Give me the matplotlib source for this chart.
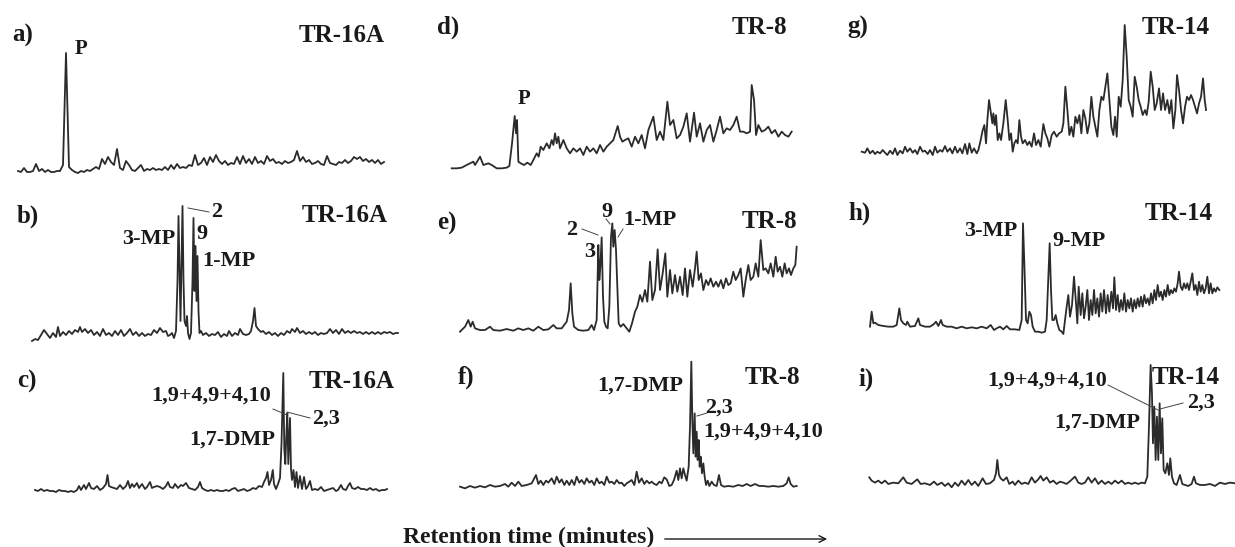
import numpy as np
import matplotlib
matplotlib.use("Agg")
import matplotlib.pyplot as plt
from matplotlib.lines import Line2D
from matplotlib.patches import FancyArrowPatch

W, H = 1235, 547
INK = "#1a1a1a"
TRACE = "#2b2b2b"
SERIF = "Liberation Serif"

# ---- chromatogram traces (retention in arbitrary scan units, signal in arbitrary units) ----
a_time = [0, 3, 6, 9, 12, 15, 18, 21, 24, 27, 30, 33, 36, 39, 42, 45, 48, 51, 54, 57,
          60, 63, 66, 69, 72, 75, 78, 81, 84, 87, 90, 93, 96, 99, 102, 105, 108, 111, 114, 117,
          120, 123, 126, 129, 132, 135, 138, 141, 144, 147, 150, 153, 156, 159, 162, 165, 168, 171, 174, 177,
          180, 183, 186, 189, 192, 195, 198, 201, 204, 207, 210, 213, 216, 219, 222, 225, 228, 231, 234, 237,
          240, 243, 246, 249, 252, 255, 258, 261, 264, 267, 270, 273, 276, 279, 282, 285, 288, 291, 294, 297,
          300, 303, 306, 309, 312, 315, 318, 321, 324, 327, 330, 333, 336, 339, 342, 345, 348, 351, 354, 357,
          360, 363, 366]
a_signal = [2, 1, 5, 1, 1, 2, 9, 2, 4, 1, 3, 1, 1, 2, 2, 8, 120, 6, 3, 1,
            0, 2, 1, 3, 2, 4, 6, 4, 14, 9, 16, 11, 8, 24, 5, 3, 12, 8, 3, 2,
            5, 8, 2, 4, 3, 5, 3, 4, 3, 6, 3, 8, 4, 9, 5, 6, 5, 8, 7, 18,
            8, 10, 15, 8, 16, 11, 18, 12, 9, 12, 8, 10, 9, 16, 9, 17, 10, 14, 9, 16,
            10, 12, 9, 17, 12, 14, 10, 11, 9, 12, 10, 11, 13, 22, 12, 16, 11, 13, 9, 10,
            12, 9, 8, 17, 10, 9, 8, 11, 10, 13, 10, 12, 16, 14, 16, 12, 14, 11, 13, 10,
            13, 9, 11]

b_time = [32, 35, 38, 41, 44, 47, 50, 53, 56, 58, 60, 63, 66, 69, 72, 75, 78, 80, 82, 85,
          88, 91, 94, 97, 100, 103, 106, 109, 112, 115, 118, 121, 124, 127, 130, 133, 136, 139, 142, 145,
          148, 151, 154, 157, 160, 163, 166, 168, 170, 172, 174, 176, 177.5, 178.5, 179.5, 180.5, 181.5, 182.5, 183.5, 184.5,
          186, 187, 188, 189.5, 191, 192.5, 193.5, 194.5, 195.5, 196.5, 197.5, 198.5, 199.5, 201, 203, 206, 209, 212, 215, 218,
          221, 224, 227, 229, 232, 235, 238, 240, 243, 246, 249, 251, 253, 254.5, 256, 258, 261, 263, 266, 269,
          272, 275, 278, 281, 284, 287, 290, 292, 295, 297, 300, 303, 306, 309, 312, 315, 318, 321, 324, 327,
          330, 333, 336, 339, 342, 345, 348, 351, 354, 357, 360, 363, 366, 369, 372, 375, 378, 381, 384, 387,
          390, 393, 396, 398]
b_signal = [0, 2, 1, 6, 11, 7, 3, 8, 4, 14, 5, 9, 6, 10, 7, 11, 9, 14, 9, 12,
            8, 11, 6, 9, 5, 12, 6, 8, 5, 10, 6, 11, 5, 8, 12, 6, 9, 5, 8, 5,
            7, 6, 11, 8, 13, 9, 10, 5, 6, 8, 3, 10, 60, 125, 70, 20, 75, 135, 60, 20,
            15, 25, 8, 2, 8, 60, 123, 50, 95, 40, 85, 30, 8, 10, 6, 8, 5, 7, 6, 9,
            4, 7, 5, 10, 5, 8, 6, 12, 7, 6, 7, 10, 20, 33, 15, 12, 9, 10, 7, 9,
            6, 8, 5, 8, 6, 10, 8, 12, 9, 13, 8, 10, 7, 9, 7, 9, 6, 8, 7, 8,
            12, 8, 11, 7, 12, 8, 10, 8, 10, 8, 9, 7, 9, 7, 9, 7, 9, 7, 9, 8,
            9, 7, 8, 8]

c_time = [35, 38, 41, 44, 47, 50, 53, 56, 59, 62, 65, 68, 71, 74, 77, 79, 81, 84, 86, 89,
          91, 94, 97, 100, 103, 106, 107.5, 109, 111, 114, 117, 120, 123, 126, 128, 130, 132, 134, 137, 139,
          142, 145, 147, 150, 152, 154, 157, 160, 163, 166, 168, 170, 173, 175, 178, 181, 183, 186, 189, 192,
          195, 198, 200, 202, 205, 208, 211, 214, 217, 220, 223, 226, 229, 232, 235, 238, 241, 244, 247, 250,
          253, 256, 259, 262, 264, 266, 267.5, 269, 271, 272.8, 274, 276, 278, 280, 281.5, 283.3, 284.3, 285.3, 286.2, 287.3,
          288.3, 289, 290, 291, 292, 293.5, 295, 296.5, 298, 300, 302, 304, 306, 308, 310, 312, 315, 318, 321, 324,
          327, 330, 333, 336, 338, 341, 343, 346, 348, 350, 352, 355, 358, 361, 364, 367, 370, 373, 376, 379,
          382, 385, 387]
c_signal = [4, 3, 5, 3, 4, 3, 3, 2, 4, 3, 3, 2, 3, 2, 4, 8, 4, 9, 5, 11,
            6, 5, 8, 4, 6, 10, 19, 8, 7, 6, 5, 9, 5, 8, 13, 6, 10, 7, 11, 6,
            10, 5, 7, 12, 6, 7, 8, 7, 5, 8, 12, 7, 6, 10, 6, 9, 8, 11, 6, 5,
            4, 7, 12, 6, 4, 3, 4, 3, 4, 3, 3, 4, 3, 5, 6, 3, 4, 5, 3, 4,
            6, 5, 8, 7, 12, 16, 22, 9, 14, 24, 10, 5, 10, 16, 50, 121, 45, 30, 55, 81,
            30, 50, 76, 25, 14, 24, 7, 22, 6, 18, 5, 17, 5, 8, 13, 4, 5, 4, 7, 3,
            4, 5, 6, 3, 4, 9, 5, 4, 8, 11, 6, 5, 7, 5, 5, 4, 6, 4, 5, 3,
            4, 4, 5]

d_time = [95, 110, 125, 140, 150, 160, 165, 180, 190, 205, 215, 230, 245, 260, 268, 276, 284, 288, 291, 295,
          302, 312, 322, 332, 340, 350, 356, 362, 370, 380, 388, 395, 400, 405, 410, 415, 420, 430, 440, 450,
          460, 470, 480, 490, 500, 510, 520, 530, 540, 550, 560, 570, 580, 593, 600, 607, 615, 625, 635, 645,
          655, 665, 675, 685, 700, 710, 720, 730, 742, 750, 760, 770, 780, 790, 800, 810, 822, 830, 840, 850,
          860, 870, 880, 890, 900, 910, 920, 930, 940, 950, 960, 970, 980, 990, 995, 1002, 1008, 1015, 1025, 1035,
          1045, 1055, 1065, 1075, 1085, 1095, 1105, 1115]
d_signal = [2, 2, 4, 12, 17, 22, 12, 37, 12, 17, 12, 2, 2, 4, 9, 77, 159, 107, 147, 22,
            17, 12, 19, 12, 27, 47, 37, 67, 57, 77, 62, 87, 72, 107, 77, 97, 62, 87, 62, 47,
            62, 52, 62, 42, 67, 52, 62, 47, 72, 52, 67, 77, 87, 129, 97, 82, 87, 92, 67, 97,
            77, 102, 62, 117, 157, 87, 112, 87, 202, 132, 147, 92, 102, 127, 167, 82, 169, 97, 137, 82,
            117, 132, 82, 117, 157, 107, 122, 117, 132, 157, 112, 112, 107, 112, 252, 207, 102, 132, 112, 117,
            127, 107, 117, 97, 112, 102, 97, 112]

e_time = [120, 135, 145, 152, 158, 165, 180, 195, 210, 220, 240, 260, 280, 295, 310, 325, 340, 355, 370, 385,
          400, 410, 425, 440, 447, 452, 457, 462, 475, 490, 505, 515, 522, 530, 535, 538, 541, 545, 549, 553,
          558, 563, 568, 573, 577, 580, 584, 588, 592, 596, 602, 610, 620, 628, 636, 645, 652, 660, 667, 675,
          682, 690, 697, 705, 713, 720, 728, 736, 742, 750, 757, 765, 772, 780, 788, 795, 802, 810, 818, 825,
          830, 836, 843, 850, 858, 865, 872, 880, 888, 895, 903, 910, 918, 925, 932, 940, 947, 955, 962, 970,
          977, 985, 992, 1000, 1007, 1015, 1022, 1030, 1037, 1045, 1052, 1060, 1067, 1073, 1080, 1087, 1094, 1100, 1107, 1113,
          1120, 1126, 1130]
e_signal = [3, 18, 38, 18, 33, 13, 8, 8, 18, 8, 6, 11, 6, 13, 8, 13, 6, 18, 8, 10,
            23, 13, 13, 33, 68, 148, 58, 18, 8, 6, 8, 23, 8, 38, 263, 158, 198, 286, 108, 33,
            18, 13, 78, 288, 328, 258, 308, 248, 138, 28, 18, 26, 13, 3, 28, 63, 78, 113, 93, 128,
            93, 213, 98, 128, 250, 128, 178, 238, 108, 188, 118, 173, 123, 168, 113, 193, 108, 188, 138, 193,
            243, 158, 178, 128, 158, 143, 163, 138, 153, 138, 158, 133, 163, 143, 148, 183, 158, 173, 193, 108,
            158, 203, 158, 168, 208, 168, 278, 188, 193, 178, 208, 168, 228, 183, 198, 168, 208, 178, 193, 173,
            193, 203, 258]

f_time = [120, 135, 150, 165, 180, 195, 210, 225, 240, 255, 265, 275, 285, 295, 305, 320, 335, 348, 355, 362,
          370, 378, 385, 395, 403, 410, 418, 425, 433, 440, 448, 455, 463, 470, 478, 485, 493, 500, 508, 515,
          523, 530, 538, 545, 553, 560, 568, 575, 583, 590, 598, 605, 613, 620, 628, 635, 643, 650, 657, 665,
          673, 680, 688, 695, 703, 710, 718, 725, 733, 740, 748, 755, 762, 770, 775, 780, 785, 790, 795, 800,
          806, 810, 814, 817, 820, 824, 827, 830, 833, 836, 839, 842, 846, 850, 854, 858, 863, 868, 875, 882,
          890, 897, 903, 912, 925, 940, 955, 968, 980, 992, 1005, 1018, 1030, 1045, 1060, 1075, 1090, 1100, 1106, 1112,
          1120, 1130]
f_signal = [10, 5, 12, 7, 12, 8, 15, 10, 12, 18, 10, 22, 12, 25, 12, 15, 20, 45, 18, 28,
            15, 28, 22, 35, 18, 40, 22, 32, 15, 28, 15, 30, 15, 40, 22, 30, 18, 35, 22, 28,
            15, 35, 20, 25, 15, 40, 22, 25, 18, 30, 20, 22, 12, 20, 25, 30, 15, 55, 22, 35,
            18, 28, 20, 25, 18, 15, 25, 20, 38, 32, 12, 15, 30, 58, 30, 65, 35, 65, 45, 28,
            70, 190, 385, 210, 110, 230, 100, 175, 90, 150, 70, 100, 50, 80, 40, 15, 28, 12, 25, 15,
            12, 45, 15, 10, 12, 10, 15, 12, 18, 12, 18, 12, 12, 10, 12, 10, 12, 20, 38, 18,
            10, 12]

g_time = [95, 105, 112, 120, 128, 135, 142, 150, 158, 165, 172, 180, 188, 195, 202, 210, 218, 225, 232, 240,
          248, 255, 262, 270, 278, 285, 293, 300, 308, 315, 322, 330, 337, 345, 352, 360, 367, 375, 382, 390,
          397, 405, 412, 418, 425, 432, 440, 445, 452, 458, 463, 468, 472, 477, 482, 487, 490, 494, 498, 503,
          508, 513, 520, 527, 533, 538, 543, 548, 553, 558, 563, 568, 573, 578, 585, 592, 598, 605, 612, 618,
          625, 632, 640, 646, 652, 658, 665, 672, 680, 687, 695, 700, 706, 712, 718, 724, 730, 736, 742, 748,
          754, 760, 766, 772, 778, 784, 790, 796, 802, 808, 814, 820, 826, 832, 838, 844, 850, 855, 860, 866,
          872, 878, 884, 890, 896, 902, 908, 914, 920, 926, 932, 938, 945, 950, 956, 962, 968, 974, 980, 987,
          993, 999, 1005, 1012, 1018, 1024, 1030, 1036, 1041, 1047, 1053, 1059, 1065, 1071, 1077, 1083, 1089, 1095, 1101, 1107,
          1113, 1119, 1124, 1128]
g_signal = [15, 12, 25, 10, 18, 8, 15, 10, 20, 12, 5, 18, 8, 25, 5, 18, 10, 30, 15, 25,
            12, 20, 8, 30, 15, 18, 8, 20, 5, 30, 12, 20, 15, 32, 15, 25, 10, 30, 12, 25,
            10, 38, 8, 40, 12, 25, 10, 20, 50, 80, 95, 40, 110, 170, 135, 100, 130, 95, 125, 50,
            70, 50, 100, 170, 110, 50, 70, 15, 40, 50, 40, 110, 60, 40, 50, 35, 45, 30, 70, 35,
            50, 30, 98, 70, 55, 30, 65, 75, 60, 70, 75, 100, 210, 140, 65, 90, 60, 120, 100, 125,
            70, 140, 115, 70, 100, 180, 120, 90, 60, 140, 180, 170, 210, 250, 170, 90, 65, 120, 60, 180,
            150, 230, 395, 300, 170, 150, 120, 240, 210, 170, 150, 125, 140, 125, 165, 255, 210, 140, 160, 205,
            140, 190, 140, 170, 130, 170, 85, 140, 245, 200, 140, 100, 150, 180, 170, 185, 170, 150, 130, 160,
            180, 235, 170, 140]

h_time = [120, 125, 130, 135, 145, 160, 175, 190, 200, 208, 213, 220, 228, 232, 240, 255, 265, 270, 285, 300,
          312, 318, 325, 333, 338, 350, 365, 380, 395, 410, 425, 440, 455, 470, 482, 492, 500, 510, 520, 530,
          540, 555, 568, 575, 579, 583, 588, 593, 598, 603, 608, 615, 625, 635, 645, 650, 655, 659, 663, 667,
          672, 677, 682, 688, 695, 700, 705, 710, 715, 720, 726, 732, 738, 742, 746, 752, 757, 762, 767, 772,
          777, 782, 787, 792, 797, 802, 807, 812, 817, 822, 828, 833, 838, 844, 849, 853, 858, 863, 868, 873,
          878, 883, 888, 893, 898, 903, 908, 913, 918, 923, 928, 933, 938, 943, 948, 953, 958, 963, 968, 973,
          978, 983, 988, 993, 998, 1003, 1008, 1013, 1018, 1023, 1028, 1033, 1038, 1043, 1047, 1052, 1057, 1062, 1067, 1072,
          1077, 1082, 1087, 1092, 1097, 1102, 1107, 1112, 1117, 1122, 1127, 1132, 1137, 1142, 1147, 1152, 1157, 1162, 1168]
h_signal = [22, 67, 32, 34, 27, 24, 22, 22, 27, 77, 42, 32, 27, 37, 22, 24, 47, 27, 22, 22,
            30, 37, 24, 42, 27, 22, 22, 17, 22, 17, 20, 17, 22, 17, 27, 12, 17, 22, 14, 24,
            14, 14, 12, 42, 332, 212, 42, 32, 67, 57, 22, 7, 7, 4, 7, 42, 172, 272, 132, 42,
            42, 57, 32, 12, 7, 0, 42, 82, 117, 52, 87, 172, 92, 32, 142, 57, 122, 47, 82, 132,
            42, 102, 57, 132, 62, 107, 52, 122, 67, 132, 62, 117, 67, 127, 77, 170, 72, 117, 67, 102,
            72, 122, 67, 102, 77, 107, 67, 102, 77, 107, 82, 112, 82, 117, 92, 107, 87, 122, 92, 132,
            102, 147, 112, 127, 102, 132, 112, 147, 117, 132, 122, 137, 127, 152, 187, 142, 132, 152, 137, 152,
            132, 157, 182, 132, 147, 117, 157, 127, 147, 122, 137, 172, 122, 152, 122, 137, 127, 140, 132]

i_time = [118, 125, 135, 145, 155, 165, 175, 190, 205, 220, 230, 245, 262, 272, 285, 300, 312, 322, 335, 345,
          355, 365, 375, 385, 395, 405, 415, 425, 435, 445, 458, 468, 480, 492, 498, 502, 507, 512, 520, 530,
          538, 548, 555, 565, 575, 585, 595, 605, 615, 625, 632, 640, 650, 660, 670, 680, 690, 700, 710, 722,
          735, 745, 755, 765, 775, 785, 795, 805, 815, 825, 835, 845, 855, 865, 875, 885, 895, 905, 915, 925,
          935, 945, 952, 957, 962, 966, 969, 973, 977, 981, 985, 989, 993, 997, 1001, 1006, 1012, 1017, 1021, 1026,
          1032, 1040, 1050, 1057, 1065, 1075, 1085, 1092, 1098, 1110, 1125, 1140, 1155, 1170, 1185, 1200, 1215]
i_signal = [33, 23, 17, 23, 15, 23, 13, 17, 15, 33, 17, 13, 27, 13, 15, 10, 20, 10, 17, 7,
            15, 3, 17, 7, 23, 10, 25, 10, 20, 7, 30, 13, 15, 25, 45, 85, 40, 30, 23, 33,
            13, 20, 10, 23, 13, 17, 13, 33, 17, 27, 37, 23, 33, 17, 23, 13, 20, 17, 13, 23,
            35, 17, 13, 17, 33, 17, 30, 13, 23, 13, 20, 13, 23, 15, 23, 13, 17, 13, 17, 13,
            17, 15, 35, 185, 370, 285, 135, 245, 85, 215, 85, 255, 105, 210, 55, 45, 75, 40, 90, 35,
            15, 10, 40, 13, 10, 7, 13, 35, 15, 10, 10, 13, 7, 17, 13, 17, 15]

samples = ["TR-16A", "TR-16A", "TR-16A", "TR-8", "TR-8", "TR-8", "TR-14", "TR-14", "TR-14"]
letters = ["a)", "b)", "c)", "d)", "e)", "f)", "g)", "h)", "i)"]

fig = plt.figure(figsize=(W / 100, H / 100), dpi=100)


def fx(px):
    return px / W


def fy(py):
    return 1 - py / H


def trace(t, s, x0, ybase, scale):
    n = min(len(t), len(s))
    if len(t) != len(s):
        print("length mismatch", len(t), len(s))
    t = np.asarray(t[:n], dtype=float)
    s = np.asarray(s[:n], dtype=float)
    w = (t.max() - t.min()) / scale
    h = s.max() / scale
    ax = fig.add_axes([fx(x0), fy(ybase), w / W, h / H])
    ax.plot(t, s, color=TRACE, lw=1.3, clip_on=False)
    ax.set_xlim(t.min(), t.max())
    ax.set_ylim(0, s.max())
    ax.axis("off")
    return ax


# panel placement: left edge px, baseline px, data units per px
trace(a_time, a_signal, 18, 173, 1)
trace(b_time, b_signal, 32, 341, 1)
trace(c_time, c_signal, 35, 494, 1)
trace(d_time, d_signal, 451.7, 169, 3)
trace(e_time, e_signal, 460, 332.7, 3)
trace(f_time, f_signal, 460, 490, 3)
trace(g_time, g_signal, 861.7, 156.7, 3)
trace(h_time, h_signal, 870, 334, 3)
trace(i_time, i_signal, 869.3, 488.3, 3)


def label(x, y, txt, size=16, ha="left"):
    fig.text(fx(x), fy(y), txt, ha=ha, va="center", fontsize=size,
             fontweight="bold", family=SERIF, color=INK)


def leader(x1, y1, x2, y2):
    fig.add_artist(Line2D([fx(x1), fx(x2)], [fy(y1), fy(y2)],
                          transform=fig.transFigure, lw=0.7, color="#444444"))


# panel letters and sample names
letter_pos = [(12, 35), (17, 216), (17, 381), (437, 27), (437, 223), (458, 377),
              (847, 27), (848, 213), (858, 379)]
title_pos = [(385, 35), (388, 215), (395, 382), (787, 27), (797, 222), (800, 377),
             (1210, 27), (1213, 213), (1220, 377)]
for k in range(9):
    label(*letter_pos[k], letters[k], size=18)
    label(*title_pos[k], samples[k], size=18, ha="right")

# a)
label(75, 49, "P", size=15)
# b)
label(217, 212, "2", ha="center")
leader(188, 208, 209, 212)
label(175, 239, "3-MP", ha="right")
label(202, 234, "9", ha="center")
label(202, 261, "1-MP")
# c)
label(211, 396, "1,9+4,9+4,10", ha="center")
leader(273, 409, 287, 415)
label(312, 419, "2,3")
leader(287, 412, 310, 418)
label(232, 440, "1,7-DMP", ha="center")
# d)
label(524, 99, "P", size=15, ha="center")
# e)
label(572, 230, "2", ha="center")
leader(582, 229, 598, 235)
label(590, 252, "3", ha="center")
label(607, 212, "9", ha="center")
leader(606, 219, 610, 224)
label(623, 220, "1-MP")
leader(623, 229, 618, 237)
# f)
label(683, 386, "1,7-DMP", ha="right")
label(705, 408, "2,3")
leader(697, 416, 707, 413)
label(703, 432, "1,9+4,9+4,10")
# h)
label(1017, 231, "3-MP", ha="right")
label(1052, 241, "9-MP")
# i)
label(1107, 381, "1,9+4,9+4,10", ha="right")
leader(1108, 385, 1158, 410)
label(1187, 403, "2,3")
leader(1160, 409, 1183, 403)
label(1140, 423, "1,7-DMP", ha="right")

# x-axis caption with arrow
label(403, 537, "Retention time (minutes)", size=17)
fig.add_artist(FancyArrowPatch((fx(662), fy(539)), (fx(830), fy(539)),
                               transform=fig.transFigure, arrowstyle="->",
                               mutation_scale=12, lw=1.0, color=INK))

fig.savefig("out.png", dpi=100, facecolor="white")
